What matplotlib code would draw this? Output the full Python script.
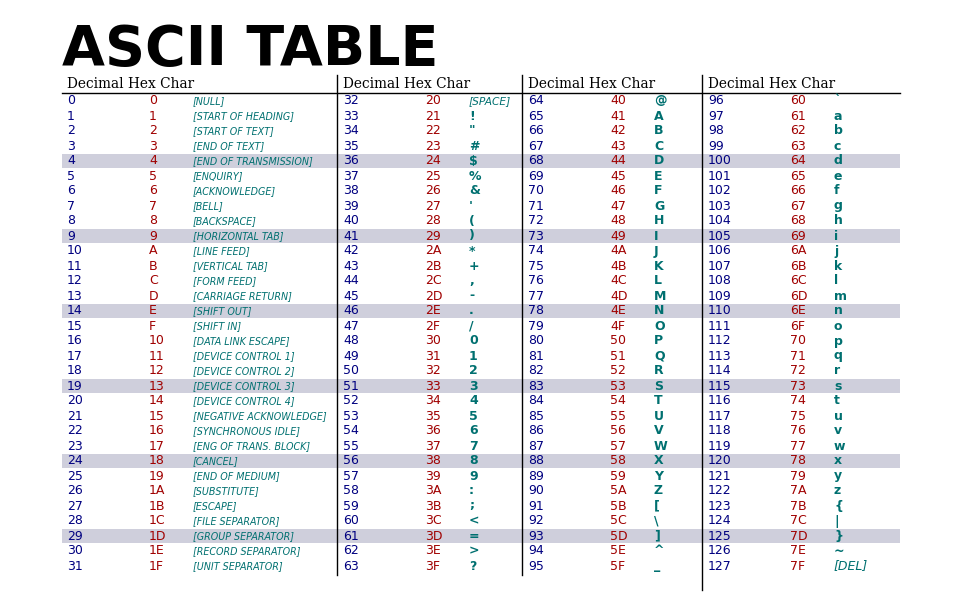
import matplotlib
matplotlib.use("Agg")
import matplotlib.pyplot as plt

control_names = ["NULL", "START OF HEADING", "START OF TEXT", "END OF TEXT",
                 "END OF TRANSMISSION", "ENQUIRY", "ACKNOWLEDGE", "BELL",
                 "BACKSPACE", "HORIZONTAL TAB", "LINE FEED", "VERTICAL TAB",
                 "FORM FEED", "CARRIAGE RETURN", "SHIFT OUT", "SHIFT IN",
                 "DATA LINK ESCAPE", "DEVICE CONTROL 1", "DEVICE CONTROL 2",
                 "DEVICE CONTROL 3", "DEVICE CONTROL 4", "NEGATIVE ACKNOWLEDGE",
                 "SYNCHRONOUS IDLE", "ENG OF TRANS. BLOCK", "CANCEL",
                 "END OF MEDIUM", "SUBSTITUTE", "ESCAPE", "FILE SEPARATOR",
                 "GROUP SEPARATOR", "RECORD SEPARATOR", "UNIT SEPARATOR"]
codes = list(range(128))
highlight_rows = [4, 9, 14, 19, 24, 29]
col_x = [67, 343, 528, 708]
sep_x = [337, 522, 702]

fig = plt.figure(figsize=(9.6, 6.15), dpi=100)
ax = fig.add_axes([0, 0, 1, 1])
ax.set_xlim(0, 960)
ax.set_ylim(615, 0)
ax.axis("off")

ax.text(62, 65, "ASCII TABLE", fontsize=40, fontweight="bold", va="baseline")
for x in col_x:
    ax.text(x, 84, "Decimal Hex Char", family="DejaVu Serif", fontsize=9.9, va="center")
ax.plot([62, 900], [93, 93], color="black", lw=1)
for i, x in enumerate(sep_x):
    ax.plot([x, x], [75, 575 if i < 2 else 590], color="black", lw=1)

y0, dy = 101, 15
for r in highlight_rows:
    ax.fill_between([62, 900], y0 + r * dy - 7, y0 + r * dy + 7, color="#cfcfdc", lw=0)

for c in codes:
    col, row = c // 32, c % 32
    x, y = col_x[col], y0 + row * dy
    ax.text(x, y, str(c), color="#000080", fontsize=9, va="center")
    ax.text(x + 82, y, "%X" % c, color="#a00000", fontsize=9, va="center")
    if c < 32:
        ax.text(x + 126, y, "[%s]" % control_names[c], color="#007070",
                fontsize=7.7, style="italic", fontstretch="condensed", va="center")
    elif c == 32:
        ax.text(x + 126, y, "[SPACE]", color="#007070", fontsize=7.7,
                style="italic", va="center")
    elif c == 127:
        ax.text(x + 126, y, "[DEL]", color="#007070", fontsize=9,
                style="italic", va="center")
    else:
        ax.text(x + 126, y, chr(c), color="#007070", fontsize=9,
                fontweight="bold", va="center")

fig.savefig("out.png", dpi=100)
